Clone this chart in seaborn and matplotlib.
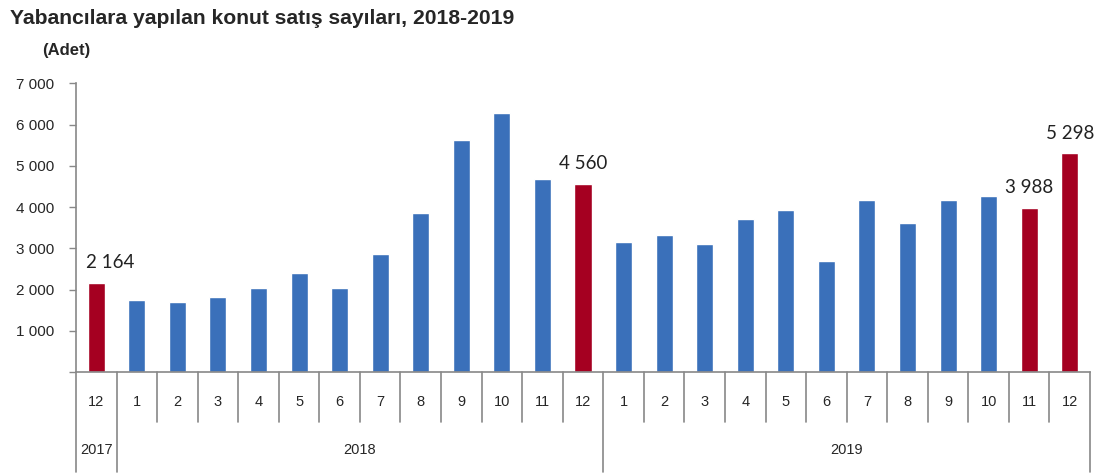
import numpy as np
import pandas as pd
import seaborn as sns
import matplotlib.pyplot as plt

# monthly house sales to foreigners, 12/2017 - 12/2019
months = ["12", "1", "2", "3", "4", "5", "6", "7", "8", "9", "10", "11", "12",
          "1", "2", "3", "4", "5", "6", "7", "8", "9", "10", "11", "12"]
years = ["2017", "2018", "2019"]
sales = [2164, 1757, 1708, 1830, 2039, 2412, 2039, 2857, 3845, 5624, 6272, 4670, 4560,
         3148, 3311, 3107, 3714, 3925, 2694, 4167, 3602, 4167, 4257, 3988, 5298]
highlight = [True] + [False] * 11 + [True] + [False] * 10 + [True, True]

sns.set_theme(style="white")
plt.rcParams['font.family'] = ['Liberation Sans', 'DejaVu Sans']

df = pd.DataFrame({"pos": range(len(sales)), "value": sales,
                   "kind": ["hl" if h else "norm" for h in highlight]})

fig = plt.figure(figsize=(10.97, 4.73), dpi=100)
ax = fig.add_axes([0.0693, 0.2135, 0.9243, 0.6105])

sns.barplot(data=df, x="pos", y="value", hue="kind", dodge=False, width=0.42,
            palette={"norm": "#3A70BA", "hl": "#A50021"}, legend=False, saturation=1,
            order=list(range(len(sales))), ax=ax)

ax.set_xlim(-0.5, len(sales) - 0.5)
ax.set_ylim(0, 7000)
ax.set_yticks(range(0, 7001, 1000))
ax.set_yticklabels(["" if v == 0 else f"{v:,}".replace(",", " ") for v in range(0, 7001, 1000)],
                   fontsize=11)
ax.tick_params(axis="y", length=5, width=1, color="#888888", left=True, pad=11)
ax.set_xticks([])
ax.set_xlabel("")
ax.set_ylabel("")
for s in ["top", "right"]:
    ax.spines[s].set_visible(False)
for s in ["left", "bottom"]:
    ax.spines[s].set_color("#888888")
    ax.spines[s].set_linewidth(1.2)

# data labels on highlighted bars
for i, (v, h) in enumerate(zip(sales, highlight)):
    if h:
        dx = 0.35 if i == 0 else 0
        ax.text(i + dx, v + 280, f"{v:,}".replace(",", " "), ha="center", va="bottom",
                fontsize=13.5, family=["Lato", "DejaVu Sans"], color="#222222")

# category table under the axis
trans = ax.get_xaxis_transform()
ax_h = 288.7
short = -50 / ax_h
long_ = -100 / ax_h
year_edges = [-0.5, 0.5, 12.5, 24.5]
for k in range(len(sales) + 1):
    x = k - 0.5
    y_end = long_ if x in year_edges else short
    ax.plot([x, x], [0, y_end], transform=trans, color="#888888", lw=1.2, clip_on=False)
for i, m in enumerate(months):
    ax.text(i, -30 / ax_h, m, transform=trans, ha="center", va="center", fontsize=10.5)
year_centers = [0, 6.5, 18.5]
for yc, yl in zip(year_centers, years):
    ax.text(yc, -78 / ax_h, yl, transform=trans, ha="center", va="center", fontsize=10.5)

fig.text(10 / 1097, 1 - 18 / 473, "Yabancılara yapılan konut satış sayıları, 2018-2019",
         fontsize=15.2, fontweight="bold", ha="left", va="center")
fig.text(42 / 1097, 1 - 50 / 473, "(Adet)", fontsize=12, fontweight="bold",
         ha="left", va="center")

fig.savefig("out.png", dpi=100)
